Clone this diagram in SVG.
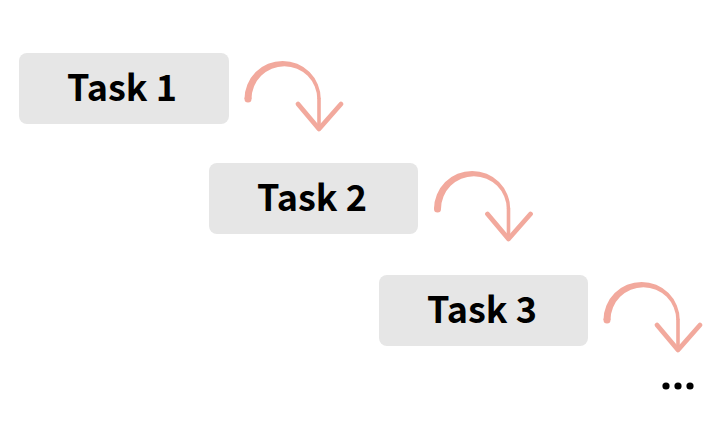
<svg xmlns="http://www.w3.org/2000/svg" width="726" height="433" viewBox="0 0 726 433">
<style>
.box{fill:#e6e6e6}
.lbl{font-family:"Noto Sans CJK SC","Liberation Sans",sans-serif;font-weight:700;font-size:36px;fill:#000;text-anchor:middle}
.arc{fill:#f2a99d}
.stem{fill:none;stroke:#f2a99d;stroke-width:3.6;stroke-linecap:round}
.head{fill:none;stroke:#f2a99d;stroke-width:4.8;stroke-linecap:round;stroke-linejoin:round}
</style>
<defs>
<g id="turn">
<path class="arc" d="M-3.5,0 A38.125,38.125 0 0 1 72.75,0 L69.25,0 A32.875,32.875 0 0 0 3.5,0 Z"/>
<circle class="arc" cx="0" cy="0" r="3.5"/>
<path class="stem" d="M71,0 L71,29"/>
<path class="head" d="M50,5 L71,30 L93,5"/>
</g>
</defs>
<rect width="726" height="433" fill="#fff"/>
<g id="task1"><rect class="box" x="19" y="53" width="210" height="71" rx="8"/><text class="lbl" x="122" y="101">Task 1</text></g>
<g id="task2"><rect class="box" x="209" y="163" width="209" height="71" rx="8"/><text class="lbl" x="312" y="211">Task 2</text></g>
<g id="task3"><rect class="box" x="379" y="275" width="209" height="71" rx="8"/><text class="lbl" x="482" y="323">Task 3</text></g>
<g id="connectors">
<use href="#turn" transform="translate(248,99)"/>
<use href="#turn" transform="translate(437.5,209)"/>
<use href="#turn" transform="translate(607,320)"/>
</g>
<g id="more"><circle cx="666" cy="386" r="3.6"/><circle cx="678" cy="386" r="3.6"/><circle cx="690" cy="386" r="3.6"/></g>
</svg>
